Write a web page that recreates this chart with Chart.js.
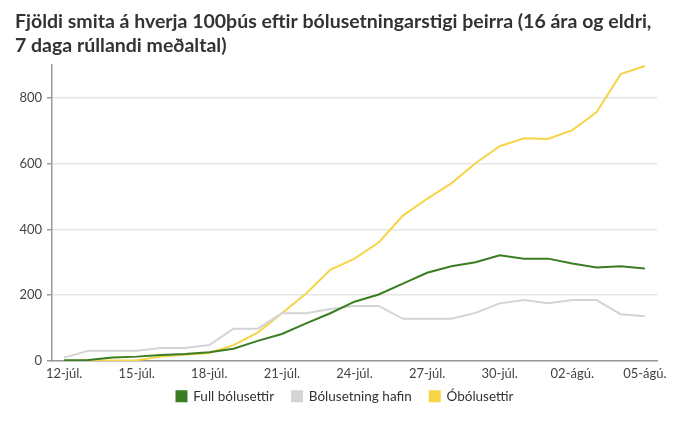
<!DOCTYPE html>
<html>
<head>
<meta charset="utf-8">
<script src="https://cdn.jsdelivr.net/npm/chart.js@4"></script>
<style>
  html, body { margin: 0; padding: 0; background: #fff; }
  #wrap { width: 679px; height: 422px; position: relative; }
</style>
</head>
<body>
<div id="wrap"><canvas id="chartCanvas"></canvas></div>
<script>
// dagsetningar (12. júlí - 5. ágúst)
const days = ["12-júl.","13-júl.","14-júl.","15-júl.","16-júl.","17-júl.","18-júl.","19-júl.","20-júl.",
  "21-júl.","22-júl.","23-júl.","24-júl.","25-júl.","26-júl.","27-júl.","28-júl.","29-júl.","30-júl.",
  "31-júl.","01-ágú.","02-ágú.","03-ágú.","04-ágú.","05-ágú."];

// smit á hverja 100þús, 7 daga meðaltal
const fullBolusettir = [2, 3, 10, 13, 18, 21, 26, 37, 61, 82, 114, 145, 180, 202, 235, 268, 288, 300, 321, 311, 311, 296, 284, 288, 281];
const bolusetningHafin = [10, 31, 31, 31, 39, 39, 48, 98, 98, 145, 145, 158, 167, 167, 128, 128, 128, 146, 175, 185, 175, 185, 185, 142, 136];
const obolusettir = [0, 1, 1, 2, 13, 19, 24, 48, 86, 145, 205, 277, 311, 360, 442, 493, 540, 601, 653, 677, 675, 702, 756, 872, 897];

const yTicks = [0, 200, 400, 600, 800];

const fontFam = "'Source Sans Pro', Lato, 'Open Sans', sans-serif";

// skýringin tekur minna pláss lóðrétt en padding gefur til kynna
const legendShift = 15;
const legendNudge = 9;
const legendLift = {
  id: "legendLift",
  beforeLayout(chart) {
    const lg = chart.legend;
    if (lg && !lg._lifted) {
      const fit = lg.fit;
      lg.fit = function() { fit.call(this); this.height -= legendShift; };
      lg._lifted = true;
    }
  },
  afterLayout(chart) {
    const lg = chart.legend;
    if (lg) {
      lg.top -= legendShift;
      lg.left += legendNudge;
      lg.right += legendNudge;
    }
  }
};

const ctx = document.getElementById("chartCanvas").getContext("2d");
window.myChart = new Chart(ctx, {
  type: "line",
  data: {
    labels: days,
    datasets: [
      { label: "Full bólusettir", data: fullBolusettir, borderColor: "#3a7d22", backgroundColor: "#3a7d22", borderWidth: 2 },
      { label: "Bólusetning hafin", data: bolusetningHafin, borderColor: "#d4d4d4", backgroundColor: "#d4d4d4", borderWidth: 2 },
      { label: "Óbólusettir", data: obolusettir, borderColor: "#f5d547", backgroundColor: "#f5d547", borderWidth: 2 }
    ]
  },
  plugins: [legendLift],
  options: {
    responsive: true,
    maintainAspectRatio: false,
    animation: false,
    elements: { point: { radius: 0 }, line: { tension: 0 } },
    layout: { padding: { left: 15, right: 22, top: 0, bottom: 9 } },
    plugins: {
      title: {
        display: true,
        text: ["Fjöldi smita á hverja 100þús eftir bólusetningarstigi þeirra (16 ára og eldri,", "7 daga rúllandi meðaltal)"],
        align: "start",
        color: "#333",
        font: { family: fontFam, size: 19.5, weight: "bold", lineHeight: 1.23 },
        padding: { top: 10, bottom: 7 }
      },
      legend: {
        position: "bottom",
        labels: {
          boxWidth: 10, boxHeight: 10, padding: 18,
          color: "#333",
          font: { family: fontFam, size: 13.5 }
        }
      },
      tooltip: { enabled: false }
    },
    scales: {
      x: {
        offset: true,
        grid: { display: false, drawTicks: false },
        border: { color: "#999", width: 1.5 },
        ticks: {
          autoSkip: false,
          maxRotation: 0,
          padding: 5,
          color: "#444",
          font: { family: fontFam, size: 13 },
          callback: function(v, i) { return i % 3 === 0 ? days[i] : null; }
        }
      },
      y: {
        min: 0,
        max: 900,
        afterBuildTicks: function(axis) { axis.ticks = yTicks.map(v => ({ value: v })); },
        afterFit: function(axis) { axis.width = 37; },
        grid: { color: "#e6e6e6", lineWidth: 1.5, tickLength: 5, tickColor: "#999" },
        border: { color: "#999", width: 1.5 },
        ticks: { color: "#444", padding: 5, font: { family: fontFam, size: 13 } }
      }
    }
  }
});
</script>
</body>
</html>
